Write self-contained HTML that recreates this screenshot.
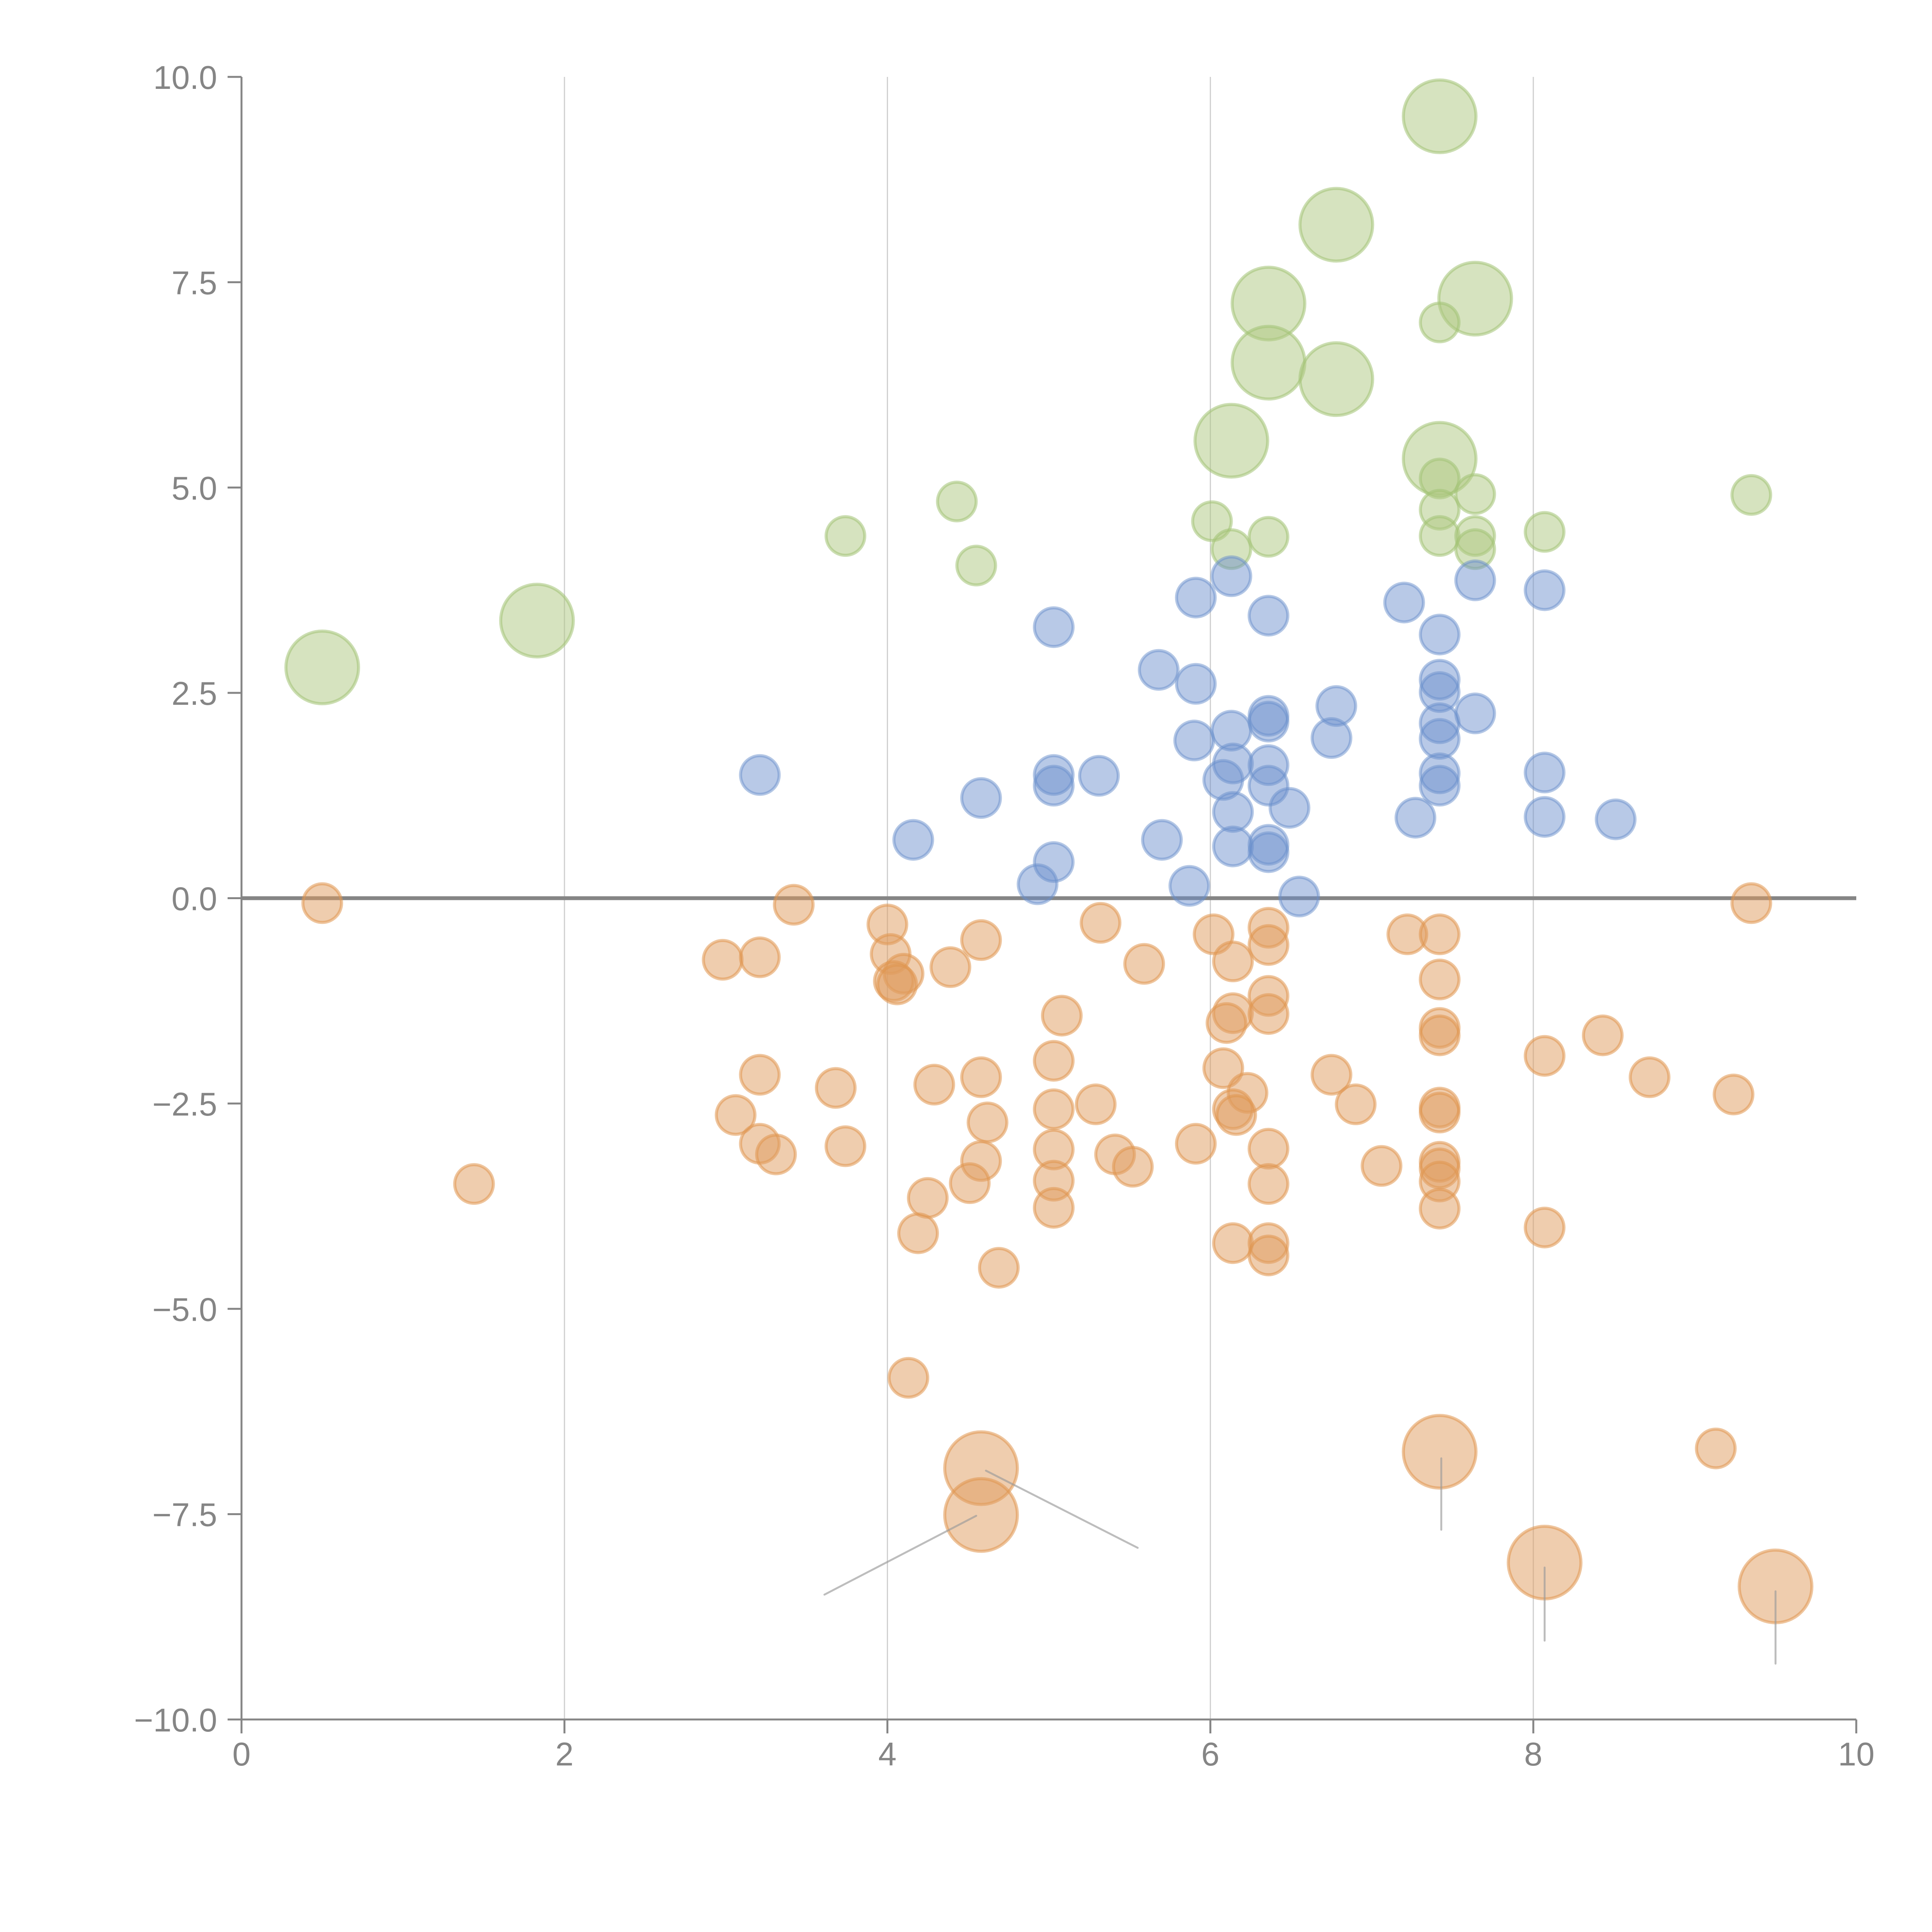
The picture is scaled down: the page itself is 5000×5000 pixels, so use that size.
<!DOCTYPE html>
<html><head><meta charset="utf-8"><style>html,body{margin:0;padding:0;background:#fff}svg{display:block}</style></head>
<body>
<svg id="chart" xmlns="http://www.w3.org/2000/svg" width="5000" height="5000" viewBox="0 0 5000 5000">
<rect width="5000" height="5000" fill="#fff"/>
<g id="grid"></g>
<g id="axes"></g>
<g id="leaders"></g>
<g id="marks"></g>
</svg>
<script>
const xTicks=[0,2,4,6,8,10];
const xTickLabels=["0","2","4","6","8","10"];
const yTicks=[-10,-7.5,-5,-2.5,0,2.5,5,7.5,10];
const yTickLabels=["\u221210.0","\u22127.5","\u22125.0","\u22122.5","0.0","2.5","5.0","7.5","10.0"];

const greenX=[7.42,6.78,6.36,7.64,7.42,6.36,6.78,6.13,7.42,7.42,7.42,7.64,7.42,7.64,7.64,8.07,9.35,4.43,3.74,4.55,6.01,6.13,6.36,1.83,0.50];
const greenY=[9.52,8.20,7.24,7.30,7.01,6.52,6.32,5.57,5.35,5.11,4.73,4.92,4.41,4.41,4.25,4.46,4.91,4.83,4.41,4.05,4.59,4.25,4.40,3.38,2.81];
const greenS=[2,2,2,2,1,2,2,2,2,1,1,1,1,1,1,1,1,1,1,1,1,1,1,2,2];

const blueX=[7.42,8.07,7.64,6.13,6.36,5.91,7.20,5.03,5.68,5.91,7.42,7.42,6.36,6.36,6.78,7.64,7.42,7.42,6.75,5.90,6.13,6.14,6.36,6.08,6.36,7.42,7.42,8.07,5.03,5.31,5.03,3.21,4.58,6.49,6.14,7.27,8.07,8.51,4.16,5.70,6.14,6.36,6.36,5.03,4.93,5.87,6.55];
const blueY=[3.21,3.75,3.87,3.92,3.44,3.66,3.60,3.30,2.78,2.61,2.66,2.51,2.22,2.15,2.34,2.25,2.13,1.94,1.95,1.92,2.04,1.64,1.62,1.44,1.37,1.52,1.37,1.53,1.50,1.49,1.37,1.50,1.22,1.10,1.05,0.98,0.99,0.96,0.71,0.71,0.63,0.65,0.56,0.44,0.17,0.15,0.02];

const orangeX=[0.50,3.42,9.35,4.00,5.32,6.02,6.36,7.22,7.42,4.58,6.36,2.98,3.21,4.02,5.59,6.14,4.39,4.10,4.04,4.06,7.42,6.36,5.08,6.14,6.36,6.10,7.42,7.42,8.43,5.03,8.07,6.08,3.21,6.75,8.72,4.58,3.68,4.29,6.23,9.24,5.29,6.90,5.03,6.14,6.16,7.42,7.42,3.06,4.62,3.21,3.74,5.91,5.03,6.36,5.41,3.31,4.58,7.06,5.52,7.42,7.42,7.42,5.03,6.36,1.44,4.51,4.25,5.03,7.42,8.07,4.19,6.14,6.36,6.36,4.69,4.13,9.13,4.58,4.58,7.42,8.07,9.50];
const orangeY=[-0.06,-0.08,-0.06,-0.32,-0.30,-0.44,-0.36,-0.44,-0.44,-0.51,-0.57,-0.75,-0.72,-0.68,-0.80,-0.77,-0.84,-0.92,-1.01,-1.05,-0.99,-1.19,-1.43,-1.40,-1.41,-1.52,-1.58,-1.67,-1.67,-1.98,-1.92,-2.07,-2.15,-2.15,-2.18,-2.18,-2.31,-2.27,-2.37,-2.39,-2.51,-2.51,-2.57,-2.57,-2.64,-2.55,-2.61,-2.64,-2.73,-2.99,-3.02,-2.99,-3.06,-3.05,-3.12,-3.12,-3.20,-3.26,-3.27,-3.21,-3.29,-3.45,-3.44,-3.48,-3.48,-3.47,-3.65,-3.77,-3.78,-4.01,-4.08,-4.20,-4.20,-4.35,-4.50,-5.84,-6.70,-6.94,-7.51,-6.74,-8.09,-8.38];
const orangeS=orangeX.map((_,i)=>i>=orangeX.length-5?2:1);

const leaderX1=[3.61,4.61,7.43,8.07,9.50];
const leaderY1=[-8.48,-6.97,-6.82,-8.15,-8.44];
const leaderX2=[4.55,5.55,7.43,8.07,9.50];
const leaderY2=[-7.52,-7.91,-7.69,-9.04,-9.32];

const X0=625,X1=4804,Y0=4450,Y1=199;
function sx(v){return X0+(v-0)/10*(X1-X0);}
function sy(v){return Y0-(v+10)/20*(Y0-Y1);}
const NS="http://www.w3.org/2000/svg";
function mk(tag,attrs,parent){const e=document.createElementNS(NS,tag);for(const k in attrs)e.setAttribute(k,attrs[k]);parent.appendChild(e);return e;}
const grid=document.getElementById('grid'),axes=document.getElementById('axes'),marks=document.getElementById('marks'),leaders=document.getElementById('leaders');

xTicks.forEach((t,i)=>{
  if(t>0&&t<10){const g=mk('line',{x1:sx(t),x2:sx(t),y1:Y1,y2:Y0,stroke:'#cfcfcf','stroke-width':3},grid);
  
  }
  const tk=mk('line',{x1:sx(t),x2:sx(t),y1:Y0,y2:Y0+36,stroke:'#858585','stroke-width':5},axes);
  
  
  const tx=mk('text',{x:sx(t),y:4569,'text-anchor':'middle','font-family':'Liberation Sans, sans-serif','font-size':85,fill:'#858585'},axes);
  tx.textContent=xTickLabels[i];
  
  
});
yTicks.forEach((t,i)=>{
  const tk=mk('line',{x1:X0-36,x2:X0,y1:sy(t),y2:sy(t),stroke:'#858585','stroke-width':5},axes);
  
  
  const tx=mk('text',{x:562,y:sy(t)+31,'text-anchor':'end','font-family':'Liberation Sans, sans-serif','font-size':85,fill:'#858585'},axes);
  tx.textContent=yTickLabels[i];
  
  
});
const ya=mk('line',{x1:X0,x2:X0,y1:Y1,y2:Y0,stroke:'#858585','stroke-width':5},axes);


const xa=mk('line',{x1:X0,x2:X1,y1:Y0,y2:Y0,stroke:'#858585','stroke-width':5},axes);


const zl=mk('line',{x1:X0,x2:X1,y1:sy(0),y2:sy(0),stroke:'#858585','stroke-width':10},axes);



function series(xs,ys,ss,fill,stroke,name,fo,so){
  xs.forEach((x,i)=>{
    const r=(ss&&ss[i]===2)?94:50;
    const c=mk('circle',{cx:sx(x),cy:sy(ys[i]),r:r,fill:fill,'fill-opacity':fo,stroke:stroke,'stroke-opacity':so,'stroke-width':8},marks);
    
    
  });
}
series(greenX,greenY,greenS,'#adc77f','#a3c274','bubble-green',0.5,0.55);
series(blueX,blueY,null,'#6a8fcc','#6a8fcc','bubble-blue',0.48,0.5);
series(orangeX,orangeY,orangeS,'#df9c5d','#e0954f','bubble-orange',0.5,0.55);

leaderX1.forEach((x,i)=>{
  const l=mk('line',{x1:sx(x),y1:sy(leaderY1[i]),x2:sx(leaderX2[i]),y2:sy(leaderY2[i]),stroke:'#999','stroke-opacity':0.65,'stroke-width':5,'stroke-linecap':'round'},marks);
  
  
});
</script>
</body></html>
